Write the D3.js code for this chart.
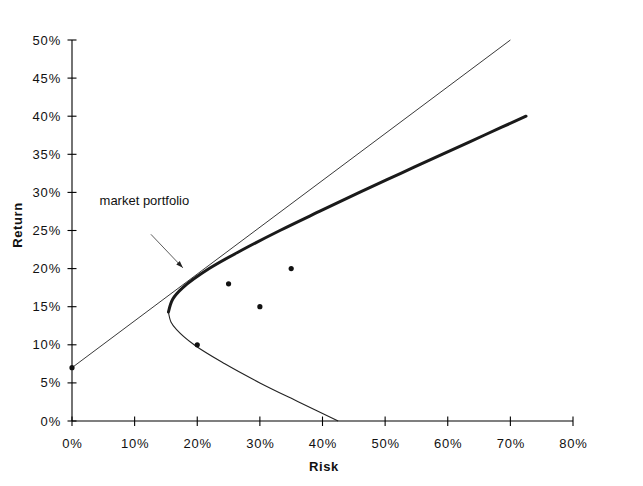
<!DOCTYPE html>
<html>
<head>
<meta charset="utf-8">
<script src="https://cdn.jsdelivr.net/npm/d3@7"></script>
<style>
  html, body { margin: 0; padding: 0; background: #fff; }
  svg { display: block; }
  text { font-family: "Liberation Sans", Arial, sans-serif; fill: #111; }
</style>
</head>
<body>
<svg id="chart" width="643" height="486"></svg>
<script>
// ---- data (percent) ----
const xTicks = [0, 10, 20, 30, 40, 50, 60, 70, 80];
const yTicks = [0, 5, 10, 15, 20, 25, 30, 35, 40, 45, 50];

// efficient frontier (risk, return)
const frontierRisk   = [42.5, 36.2, 30.0, 24.4, 19.5, 16.7, 15.8, 15.4, 16.1, 17.7, 21.9, 27.3, 33.2, 39.5, 45.9, 52.5, 59.1, 65.8, 72.5];
const frontierReturn = [0,    2.5,  5,    7.5,  10,   12,   13,   14.3, 16,   17.5, 20,   22.5, 25,   27.5, 30,   32.5, 35,   37.5, 40];
const efficientStart = 7; // index of minimum-variance point

// capital market line
const cmlRisk   = [0, 70];
const cmlReturn = [7, 50];

// individual assets
const assetRisk   = [0, 20, 25, 30, 35];
const assetReturn = [7, 10, 18, 15, 20];

// annotation
const annoLabel = "market portfolio";
const annoText  = [4.4, 28.3];
const annoFrom  = [12.6, 24.5];
const annoTo    = [17.7, 20.1];

// ---- chart ----
const svg = d3.select("#chart");
const x = d3.scaleLinear().domain([0, 80]).range([72, 573]);
const y = d3.scaleLinear().domain([0, 50]).range([421, 40]);

const fmt = d => d + "%";

// y axis
const gy = svg.append("g");
gy.append("line").attr("x1", x(0)).attr("x2", x(0)).attr("y1", y(0)).attr("y2", y(50))
  .attr("stroke", "#000").attr("stroke-width", 1.1);
gy.selectAll("line.t").data(yTicks).enter().append("line").attr("class", "t")
  .attr("x1", x(0) - 4.5).attr("x2", x(0) + 4.5)
  .attr("y1", d => y(d)).attr("y2", d => y(d))
  .attr("stroke", "#000").attr("stroke-width", 1.1);
gy.selectAll("text").data(yTicks).enter().append("text")
  .attr("x", 61).attr("y", d => y(d) + 4.5)
  .attr("text-anchor", "end").attr("font-size", 13).attr("letter-spacing", 0.8)
  .text(fmt);

// x axis
const gx = svg.append("g");
gx.append("line").attr("x1", x(0)).attr("x2", x(80)).attr("y1", y(0)).attr("y2", y(0))
  .attr("stroke", "#000").attr("stroke-width", 1.1);
gx.selectAll("line.t").data(xTicks).enter().append("line").attr("class", "t")
  .attr("x1", d => x(d)).attr("x2", d => x(d))
  .attr("y1", y(0) - 4.5).attr("y2", y(0) + 5)
  .attr("stroke", "#000").attr("stroke-width", 1.1);
gx.selectAll("text").data(xTicks).enter().append("text")
  .attr("x", d => x(d) + 0.5).attr("y", 448)
  .attr("text-anchor", "middle").attr("font-size", 13).attr("letter-spacing", 0.8)
  .text(fmt);

// axis titles
svg.append("text").attr("x", 324).attr("y", 471).attr("text-anchor", "middle")
  .attr("font-size", 13).attr("font-weight", "bold").attr("letter-spacing", 0.6).text("Risk");
svg.append("text").attr("transform", "translate(22,225) rotate(-90)")
  .attr("text-anchor", "middle").attr("font-size", 13).attr("font-weight", "bold")
  .attr("letter-spacing", 0.6).text("Return");

// CML
const pts = (rs, ret) => rs.map((r, i) => [r, ret[i]]);
const line = d3.line().x(d => x(d[0])).y(d => y(d[1]));
svg.append("path").datum(pts(cmlRisk, cmlReturn)).attr("d", line)
  .attr("fill", "none").attr("stroke", "#222").attr("stroke-width", 0.9);

// frontier
const curve = d3.line().x(d => x(d[0])).y(d => y(d[1])).curve(d3.curveCatmullRom.alpha(0.5));
const fpts = pts(frontierRisk, frontierReturn);
svg.append("path").datum(fpts.slice(0, efficientStart + 1)).attr("d", curve)
  .attr("fill", "none").attr("stroke", "#222").attr("stroke-width", 1.1);
svg.append("path").datum(fpts.slice(efficientStart)).attr("d", curve)
  .attr("fill", "none").attr("stroke", "#1a1a1a").attr("stroke-width", 3)
  .attr("stroke-linecap", "round");

// assets
svg.selectAll("circle").data(pts(assetRisk, assetReturn)).enter().append("circle")
  .attr("cx", d => x(d[0])).attr("cy", d => y(d[1])).attr("r", 2.6).attr("fill", "#111");

// annotation
svg.append("defs").append("marker").attr("id", "arr")
  .attr("viewBox", "0 0 10 10").attr("refX", 10).attr("refY", 5)
  .attr("markerWidth", 7).attr("markerHeight", 7).attr("markerUnits", "userSpaceOnUse")
  .attr("orient", "auto")
  .append("path").attr("d", "M0,1.5 L10,5 L0,8.5 Z").attr("fill", "#222");
svg.append("line")
  .attr("x1", x(annoFrom[0])).attr("y1", y(annoFrom[1]))
  .attr("x2", x(annoTo[0])).attr("y2", y(annoTo[1]))
  .attr("stroke", "#333").attr("stroke-width", 0.8).attr("marker-end", "url(#arr)");
svg.append("text").attr("x", x(annoText[0])).attr("y", y(annoText[1]))
  .attr("font-size", 13).text(annoLabel);
</script>
</body>
</html>
